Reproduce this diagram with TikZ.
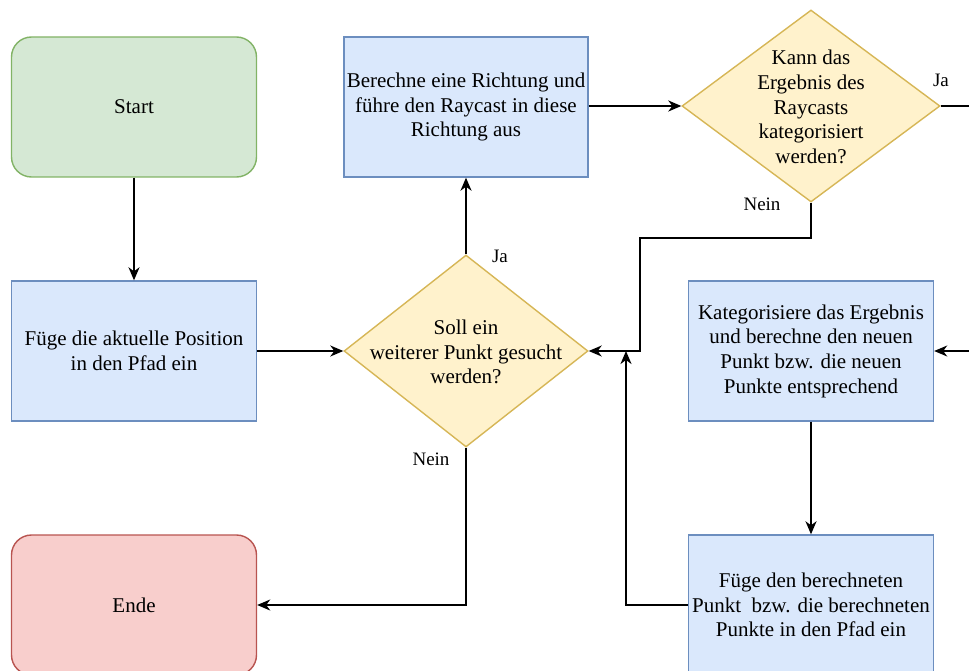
\documentclass[tikz,border=0pt]{standalone}
\usepackage{fontspec}
\setmainfont{Liberation Serif}
\usetikzlibrary{shapes.geometric,arrows.meta}
\definecolor{gfill}{HTML}{D5E8D4}\definecolor{gline}{HTML}{82B366}
\definecolor{bfill}{HTML}{DAE8FC}\definecolor{bline}{HTML}{6C8EBF}
\definecolor{yfill}{HTML}{FFF2CC}\definecolor{yline}{HTML}{D6B656}
\definecolor{rfill}{HTML}{F8CECC}\definecolor{rline}{HTML}{B85450}
\tikzset{
  txt/.style={font=\rmfamily\fontsize{21}{24.7}\selectfont, align=center, inner sep=0pt},
  box/.style={txt, draw=bline, fill=bfill, line width=1.4pt, minimum width=245pt, minimum height=140pt},
  term/.style={box, rounded corners=20pt},
  dia/.style={diamond, draw=yline, fill=yfill, line width=1.4pt, inner sep=0pt, minimum width=244pt, minimum height=192pt},
  lbl/.style={font=\rmfamily\fontsize{19}{22}\selectfont, inner sep=0pt},
  conn/.style={line width=1.7pt, -{Stealth[length=13pt,width=11pt,inset=4pt]}},
  plain/.style={line width=1.7pt},
}
\begin{document}
\begin{tikzpicture}[x=1pt,y=-1pt]
\useasboundingbox (0,0) rectangle (969,671);
% nodes
\node[term, draw=gline, fill=gfill] (start) at (134,107) {Start};
\node[box] (pos) at (134,351) {Füge die aktuelle Position\\in den Pfad ein};
\node[term, draw=rline, fill=rfill] (ende) at (134,605) {Ende};
\node[box, minimum width=244pt] (ray) at (466,107) {Berechne eine Richtung und\\führe den Raycast in diese\\Richtung aus};
\node[dia] (soll) at (466,351) {};
\node[txt] (sollt) at (466,352) {Soll ein\\weiterer Punkt gesucht\\werden?};
\node[dia, minimum width=258pt] (kann) at (811,106) {};
\node[txt] (kannt) at (811,107) {Kann das\\Ergebnis des\\Raycasts\\kategorisiert\\werden?};
\node[box] (kat) at (811,351) {Kategorisiere das Ergebnis\\und berechne den neuen\\Punkt bzw. die neuen\\Punkte entsprechend};
\node[box] (add) at (811,605) {Füge den berechneten\\Punkt\ \ bzw. die berechneten\\Punkte in den Pfad ein};
% off-page ends
\coordinate (offa) at (975,106);
\coordinate (offb) at (975,351);
\coordinate (jn) at (626,351);
% connectors
\draw[conn] (start) -- (pos);
\draw[conn] (pos) -- (soll);
\draw[conn] (soll) -- (ray);
\draw[conn] (ray.east |- kann.west) -- (kann.west);
\draw[plain] (kann.east) -- (offa);
\draw[conn] (offb) -- (kat);
\draw[conn] (kann.south) -- (811,238) -- (640,238) -- (640,351) -- (soll.east);
\draw[conn] (kat) -- (add);
\draw[conn] (add.west) -- (626,605) -- (jn);
\draw[conn] (soll.south) -- (466,605) -- (ende.east);
% labels
\node[lbl] (l1) at (500,256) {Ja};
\node[lbl] (l2) at (941,80) {Ja};
\node[lbl] (l3) at (762,204) {Nein};
\node[lbl] (l4) at (431,459) {Nein};
\end{tikzpicture}
\end{document}
